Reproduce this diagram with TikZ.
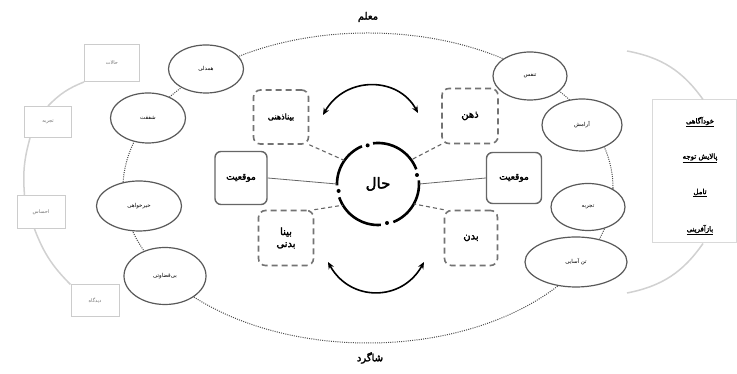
\documentclass[tikz,border=0pt]{standalone}
\usepackage{fontspec}
\newfontfamily\persianfont[Script=Arabic, BoldFont={DejaVu Sans}, BoldFeatures={FakeBold=2.5}]{DejaVu Sans}
\TeXXeTstate=1
\newcommand\fatext[1]{{\persianfont\beginR #1\endR}}
\usetikzlibrary{shapes.geometric,arrows.meta}
\begin{document}
\begin{tikzpicture}[x=1pt,y=1pt,
  smallell/.style={ellipse, draw=black!65, line width=1.2pt, fill=white, inner sep=0pt, font=\fontsize{5.5}{6.5}\selectfont},
  litebox/.style={rectangle, draw=black!20, line width=1pt, fill=white, inner sep=0pt, text=black!55, font=\fontsize{5}{6}\selectfont},
  litearc/.style={draw=black!18, line width=1.5pt},
  dashbox/.style={rectangle, rounded corners=7pt, draw=black!55, line width=1.6pt, dash pattern=on 6pt off 4pt, fill=white, inner sep=0pt, font=\fontsize{10}{12}\selectfont\bfseries, align=center},
  solidbox/.style={rectangle, rounded corners=6pt, draw=black!60, line width=1.4pt, fill=white, inner sep=0pt, font=\fontsize{9}{11}\selectfont\bfseries},
  dashlink/.style={draw=black!60, line width=1.1pt, dash pattern=on 4pt off 3pt},
  solidlink/.style={draw=black!60, line width=0.8pt},
  halarc/.style={line width=2.6pt, draw=black},
  swap/.style={{Stealth[length=7pt,width=6pt]}-{Stealth[length=7pt,width=6pt]}, line width=1.6pt},
  rtext/.style={font=\fontsize{7}{9}\selectfont\bfseries}
]
\useasboundingbox (0,0) rectangle (737,374);
\fill[white] (0,0) rectangle (737,374);

% big dotted ellipse
\draw[black!70, line width=1pt, dash pattern=on 1pt off 1.2pt] (368,186) ellipse [x radius=245, y radius=155];

% titles
\node[font=\fontsize{10}{12}\selectfont\bfseries] (teacher) at (368,357) {\fatext{معلم}};
\node[font=\fontsize{10}{12}\selectfont\bfseries] (student) at (370,16) {\fatext{شاگرد}};

% left ellipses
\node[smallell, minimum width=75, minimum height=48] (e1) at (206,305) {\fatext{همدلی}};
\node[smallell, minimum width=75, minimum height=50] (e2) at (148,256) {\fatext{شفقت}};
\node[smallell, minimum width=85, minimum height=50] (e3) at (139,168) {\fatext{خیرخواهی}};
\node[smallell, minimum width=82, minimum height=57] (e4) at (165,98) {\fatext{بی‌قضاوتی}};

% right ellipses
\node[smallell, minimum width=74, minimum height=48] (r1) at (530,298) {\fatext{تنفس}};
\node[smallell, minimum width=80, minimum height=52] (r2) at (582,249) {\fatext{آرامش}};
\node[smallell, minimum width=74, minimum height=47] (r3) at (588,167) {\fatext{تجربه}};
\node[smallell, minimum width=102, minimum height=50] (r4) at (576,112) {\fatext{تن آسایی}};

% left light boxes
\node[litebox, minimum width=55, minimum height=37] (b1) at (112,311) {\fatext{حالات}};
\node[litebox, minimum width=47, minimum height=31] (b2) at (48,252) {\fatext{تجربه}};
\node[litebox, minimum width=48, minimum height=33] (b3) at (41,162) {\fatext{احساس}};
\node[litebox, minimum width=48, minimum height=32] (b4) at (95,73) {\fatext{دیدگاه}};
\draw[litearc] (b1.south west) to[bend right=12] (b2.north);
\draw[litearc] ([xshift=6pt]b2.south west) to[bend right=10] ([xshift=8pt]b3.north west);
\draw[litearc] ([xshift=18pt]b3.south west) to[bend right=12] (b4.north west);

% right light box
\node[rectangle, draw=black!15, line width=1pt, fill=white, minimum width=84, minimum height=143, inner sep=0pt] (rb) at (694,202.5) {};
\node[rtext] (t1) at (700,252) {\underline{\fatext{خودآگاهی}}};
\node[rtext] (t2) at (700,216) {\underline{\fatext{پالایش توجه}}};
\node[rtext] (t3) at (700,181) {\underline{\fatext{تامل}}};
\node[rtext] (t4) at (700,144) {\underline{\fatext{بازآفرینی}}};
\coordinate (ra1) at (627,323);
\coordinate (ra2) at (627,81);
\draw[litearc] (ra1) to[bend left=22] ([xshift=9pt]rb.north);
\draw[litearc] ([xshift=9pt]rb.south) to[bend left=22] (ra2);

% center
\node[circle, minimum size=82, inner sep=0pt, font=\fontsize{15}{18}\selectfont\bfseries] (hal) at (378,190) {\fatext{حال}};
\draw[halarc] (hal.center) ++(21:41) arc[start angle=21, end angle=97, radius=41];
\draw[halarc] (hal.center) ++(113:41) arc[start angle=113, end angle=182, radius=41];
\draw[halarc] (hal.center) ++(199:41) arc[start angle=199, end angle=274, radius=41];
\draw[halarc] (hal.center) ++(292:41) arc[start angle=292, end angle=365, radius=41];
\fill (hal.center) ++(13:40) circle[radius=2];
\fill (hal.center) ++(105:40) circle[radius=2];
\fill (hal.center) ++(190:40) circle[radius=2];
\fill (hal.center) ++(283:40) circle[radius=2];

% dashed boxes
\node[dashbox, minimum width=55, minimum height=54] (btl) at (281,257) {\fontsize{8}{10}\selectfont\fatext{بیناذهنی}};
\node[dashbox, minimum width=56, minimum height=55] (btr) at (470,258) {\fatext{ذهن}};
\node[dashbox, minimum width=55, minimum height=55] (bbl) at (286,136) {\fatext{بینا}\\\fatext{بدنی}};
\node[dashbox, minimum width=53, minimum height=55] (bbr) at (471,136) {\fatext{بدن}};

% solid boxes
\node[solidbox, minimum width=52, minimum height=53] (ml) at (241,196) {\fatext{موقعیت}};
\node[solidbox, minimum width=55, minimum height=51] (mr) at (514,196) {\fatext{موقعیت}};

% links
\draw[solidlink] (ml.east) -- (hal.west);
\draw[solidlink] (mr.west) -- (hal.east);
\draw[dashlink] (btl.south east) -- (hal.145);
\draw[dashlink] (btr.south west) -- (hal.36);
\draw[dashlink] (bbl.north east) -- (hal.211);
\draw[dashlink] (bbr.north west) -- (hal.331);

% curved double arrows
\coordinate (ta) at (323,259);
\coordinate (tb) at (418,261);
\coordinate (ba) at (328,112);
\coordinate (bb) at (424,112);
\draw[swap] (ta) .. controls (345,298) and (398,298) .. (tb);
\draw[swap] (ba) .. controls (350,72) and (402,72) .. (bb);
\end{tikzpicture}
\end{document}
